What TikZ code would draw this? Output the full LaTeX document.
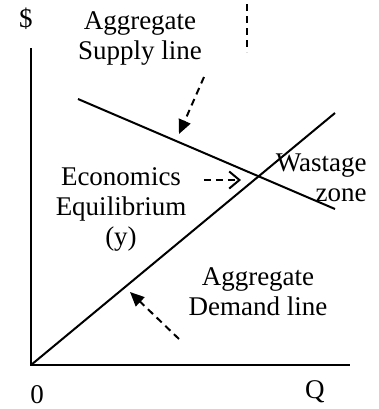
\documentclass[tikz,border=0pt]{standalone}
\usepackage{fontspec}
\setmainfont{Liberation Serif}
\usepackage{tikz}
\usetikzlibrary{positioning,arrows.meta}

\begin{document}
\begin{tikzpicture}[
  x=0.5pt, y=-0.5pt,
  font=\fontsize{13.5}{15}\selectfont,
  label/.style={inner sep=1pt, align=center},
  axis/.style={line width=1pt, draw=black},
  curve/.style={line width=1pt, draw=black},
  pointer/.style={-{Triangle[length=2.5mm,width=2.2mm]}, line width=1pt, dash pattern=on 3.5pt off 2.5pt},
  openptr/.style={-{Straight Barb[length=1.8mm,width=3mm]}, line width=1pt, dash pattern=on 3.5pt off 2.5pt},
]
\useasboundingbox (0,0) rectangle (379,409);
%====================== AXES ======================
\coordinate (O) at (31,365);
\coordinate (ytop) at (31,48);
\coordinate (xend) at (350,365);
\draw[axis] (ytop) -- (O) -- (xend);
\node[label] (dollar) at (26,19) {\$};
\node[label] (zero) at (37,395) {0};
\node[label] (q) at (315,392) {Q};

%====================== LINES ======================
\coordinate (s1) at (78,99);
\coordinate (s2) at (335,209);
\coordinate (d2) at (335,113);
\draw[curve] (s1) -- (s2);
\draw[curve] (O) -- (d2);

%====================== LABELS ======================
\node[label] (supply) at (140,38) {Aggregate\\Supply line};
\node[label] (equil) at (121,209) {Economics\\Equilibrium\\(y)};
\node[label, align=right, anchor=east] (waste) at (369,178) {Wastage\\zone};
\node[label] (demand) at (258,292) {Aggregate\\Demand line};

%====================== POINTERS ======================
\coordinate (v1) at (247,4);
\coordinate (v2) at (247,52);
\draw[line width=1pt, dash pattern=on 3.5pt off 2.5pt] (v1) -- (v2);
\coordinate (sa) at (204,77);
\coordinate (sb) at (179,134);
\draw[pointer] (sa) -- (sb);
\coordinate (ea) at (204,180);
\coordinate (eb) at (241,180);
\draw[openptr] (ea) -- (eb);
\coordinate (da) at (179,339);
\coordinate (db) at (130,292);
\draw[pointer] (da) -- (db);
\end{tikzpicture}
\end{document}
